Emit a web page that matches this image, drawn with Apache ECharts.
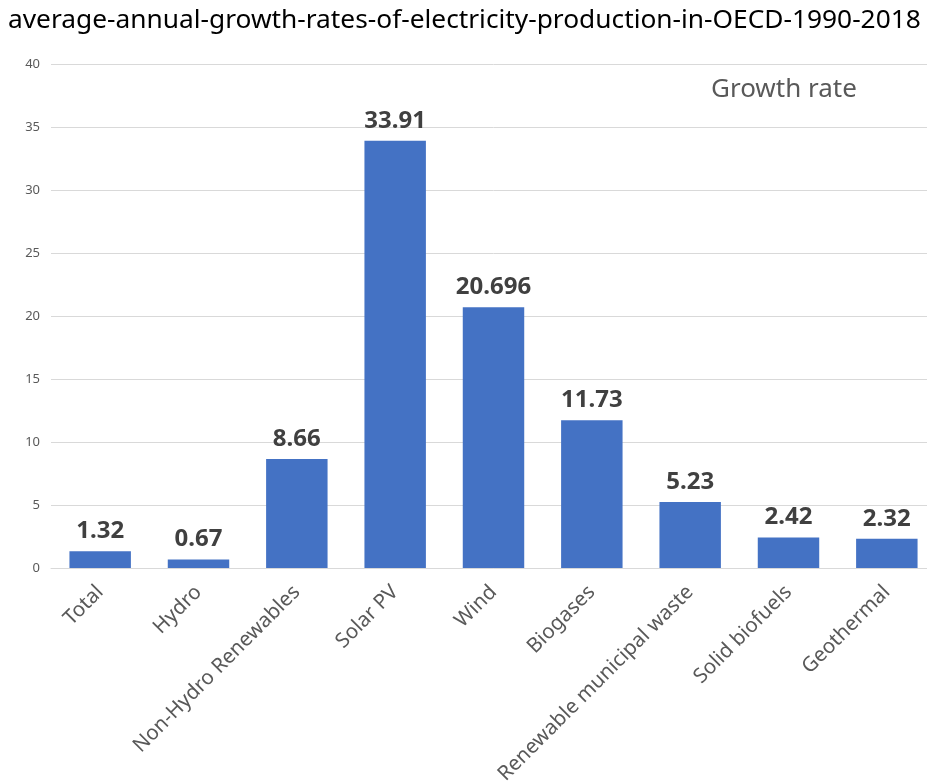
<!DOCTYPE html>
<html>
<head>
<meta charset="utf-8">
<script src="https://cdn.jsdelivr.net/npm/echarts@6/dist/echarts.min.js"></script>
<style>
  html, body { margin: 0; padding: 0; background: #fff; overflow: hidden; }
  /* 绘图区右侧在原图中被裁掉，所以画布比窗口略宽 */
  #chart { width: 936px; height: 784px; }
</style>
</head>
<body>
<div id="chart"></div>
<script>
// 数据
const categories = ['Total', 'Hydro', 'Non-Hydro Renewables', 'Solar PV', 'Wind', 'Biogases', 'Renewable municipal waste', 'Solid biofuels', 'Geothermal'];
const growthRates = [1.32, 0.67, 8.66, 33.91, 20.696, 11.73, 5.23, 2.42, 2.32];
const yTicks = [0, 5, 10, 15, 20, 25, 30, 35, 40];

const chartDom = document.getElementById('chart');
const myChart = echarts.init(chartDom);

const option = {
  animation: false,
  title: [
    {
      text: 'average-annual-growth-rates-of-electricity-production-in-OECD-1990-2018',
      left: 3,
      top: 3,
      textStyle: { fontFamily: 'Noto Sans', fontSize: 26.3, fontWeight: 'normal', color: '#000' }
    },
    {
      text: 'Growth rate',
      left: 706,
      top: 72,
      textStyle: { fontFamily: 'Noto Sans', fontSize: 26, fontWeight: 'normal', color: '#595959' }
    }
  ],
  grid: { left: 51, right: 0, top: 64, bottom: 216, containLabel: false, outerBoundsMode: 'none' },
  xAxis: {
    type: 'category',
    data: categories,
    axisLine: { lineStyle: { color: '#d9d9d9' } },
    axisTick: { show: false },
    axisLabel: {
      interval: 0,
      rotate: 45,
      margin: 21,
      fontFamily: 'Noto Sans',
      fontSize: 20.5,
      color: '#595959'
    }
  },
  yAxis: {
    type: 'value',
    min: yTicks[0],
    max: yTicks[yTicks.length - 1],
    interval: 5,
    axisLine: { show: false },
    axisTick: { show: false },
    splitLine: { lineStyle: { color: '#d9d9d9' } },
    axisLabel: { margin: 11, fontFamily: 'Noto Sans', fontSize: 13, color: '#595959' }
  },
  series: [
    {
      name: 'Growth rate',
      type: 'bar',
      data: growthRates,
      barCategoryGap: '37.5%',
      itemStyle: { color: '#4472c4' },
      label: {
        show: true,
        position: 'top',
        distance: 8,
        fontFamily: 'Noto Sans',
        fontSize: 24,
        fontWeight: 'bold',
        color: '#404040'
      }
    }
  ]
};

myChart.setOption(option);
</script>
</body>
</html>
